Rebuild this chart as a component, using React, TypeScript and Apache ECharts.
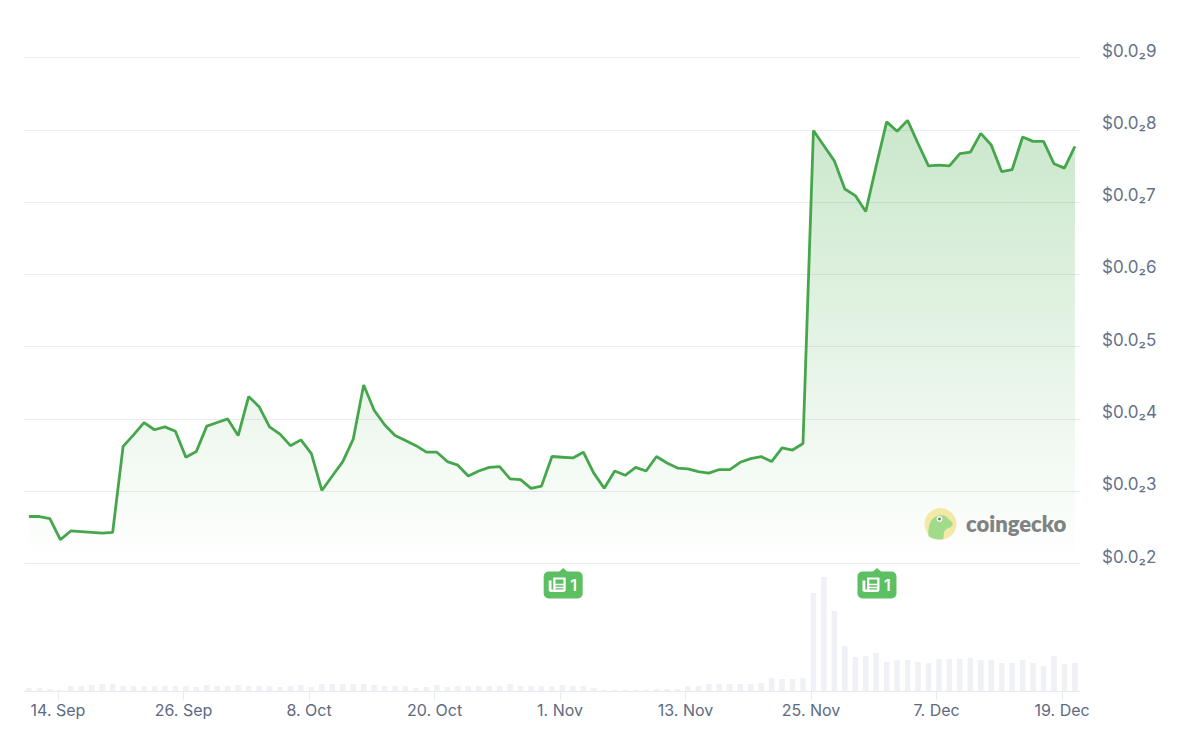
import { useEffect, useRef } from "react";
import * as echarts from "echarts";

// x values are days counted from 14 Sep
const firstPointDay = -2.775;
const axisStart = -3.25;
const axisEnd = 97.71;

// price, in thousandths of a dollar
const prices = [
  2.65, 2.65, 2.62, 2.33, 2.45, 2.44, 2.43, 2.42, 2.43, 3.62,
  3.78, 3.95, 3.85, 3.89, 3.83, 3.47, 3.55, 3.9, 3.95, 4.0,
  3.77, 4.31, 4.17, 3.89, 3.79, 3.63, 3.71, 3.52, 3.01, 3.21,
  3.41, 3.72, 4.47, 4.12, 3.92, 3.77, 3.7, 3.63, 3.54, 3.54,
  3.41, 3.36, 3.21, 3.28, 3.33, 3.34, 3.17, 3.16, 3.04, 3.07,
  3.48, 3.47, 3.46, 3.54, 3.25, 3.04, 3.28, 3.22, 3.33, 3.28,
  3.48, 3.39, 3.32, 3.31, 3.27, 3.25, 3.3, 3.3, 3.4, 3.45,
  3.48, 3.41, 3.6, 3.57, 3.66, 7.99, 7.78, 7.57, 7.18, 7.09,
  6.87, 7.5, 8.11, 7.98, 8.13, 7.81, 7.5, 7.51, 7.5, 7.67,
  7.69, 7.95, 7.79, 7.42, 7.45, 7.9, 7.84, 7.84, 7.53, 7.47,
  7.77,
];

const volumes = [
  3, 3, 2, 1, 5, 5, 6, 7, 7, 5,
  5, 5, 5, 5, 5, 5, 4, 6, 5, 5,
  6, 5, 5, 5, 4, 5, 6, 4, 7, 7,
  7, 7, 7, 6, 5, 5, 5, 3, 4, 6,
  4, 5, 5, 5, 5, 5, 7, 5, 5, 5,
  5, 6, 5, 5, 3, 1, 1, 1, 1, 1,
  2, 2, 2, 5, 5, 7, 7, 7, 7, 7,
  8, 13, 12, 12, 13, 98, 114, 80, 45, 34,
  35, 38, 29, 31, 31, 29, 28, 32, 32, 32,
  33, 31, 31, 28, 28, 31, 28, 25, 35, 27,
  28,
];

const priceTicks = [2, 3, 4, 5, 6, 7, 8, 9];
const priceLabels = ["$0.0₂2", "$0.0₂3", "$0.0₂4", "$0.0₂5", "$0.0₂6", "$0.0₂7", "$0.0₂8", "$0.0₂9"];

const tickDays = [0, 12, 24, 36, 48, 60, 72, 84, 96];
const tickLabels = ["14. Sep", "26. Sep", "8. Oct", "20. Oct", "1. Nov", "13. Nov", "25. Nov", "7. Dec", "19. Dec"];

const newsDays = [48.3, 78.3];
const newsCounts = ["1", "1"];

const FONT = "Inter, 'Liberation Sans', sans-serif";
const NEWS_ICON =
  "M4 0H15V13C15 14.1 14.1 15 13 15H2C0.9 15 0 14.1 0 13V3H2.5V12.5H4ZM6 2V6.5H13V2ZM6 8V9.5H13V8ZM6 11V12.5H13V11Z";
const GECKO =
  "M-12 12C-13 2 -10 -6 -3 -8C1 -10 6 -8 8 -5C10 -3 13 -2 12 1C11 4 6 4 4 7C3 10 3 13 3 15C-3 16 -9 15 -12 12Z";

echarts.graphic.registerShape("gecko", echarts.graphic.extendPath(GECKO, {}) as any);

function renderBadge(params: any, api: any) {
  const [cx, cy] = api.coord([api.value(0), 2]);
  return {
    type: "group",
    x: cx,
    y: cy,
    children: [
      { type: "polygon", shape: { points: [[-5, 9], [0, 4.5], [5, 9]] }, style: { fill: "#5cbf62" } },
      { type: "rect", shape: { x: -19.5, y: 8, width: 39, height: 27, r: 5 }, style: { fill: "#5cbf62" } },
      {
        type: "path",
        shape: { pathData: NEWS_ICON, x: -14.5, y: 14, width: 17, height: 14.5, layout: "cover" },
        style: { fill: "#ffffff" },
      },
      {
        type: "text",
        x: 10.5,
        y: 21.5,
        style: {
          text: newsCounts[params.dataIndex],
          fill: "#ffffff",
          font: `600 16px ${FONT}`,
          align: "center",
          verticalAlign: "middle",
        },
      },
    ],
  };
}

export default function App() {
  const chartRef = useRef<HTMLDivElement>(null);

  useEffect(() => {
    if (!chartRef.current) return;
    document.body.style.margin = "0";
    const chart = echarts.init(chartRef.current, null, { renderer: "svg" });

    const days = prices.map((_, i) => firstPointDay + i);

    chart.setOption({
      animation: false,
      backgroundColor: "#ffffff",
      textStyle: { fontFamily: FONT },
      grid: [
        { left: 24, right: 120, top: 57.5, height: 506 },
        { left: 24, right: 120, top: 563, height: 128 },
      ],
      xAxis: [
        { type: "value", gridIndex: 0, min: axisStart, max: axisEnd, show: false },
        {
          type: "value",
          gridIndex: 1,
          min: axisStart,
          max: axisEnd,
          splitLine: { show: false },
          axisLine: { lineStyle: { color: "#e8ebf1", width: 1 } },
          axisTick: { show: true, length: 9, customValues: tickDays, lineStyle: { color: "#e8ebf1" } },
          axisLabel: {
            customValues: tickDays,
            margin: 11,
            fontSize: 16,
            color: "#5e6a82",
            fontFamily: FONT,
            hideOverlap: false,
            formatter: (v: number) => tickLabels[tickDays.indexOf(v)] ?? "",
          },
        },
      ],
      yAxis: [
        {
          type: "value",
          gridIndex: 0,
          position: "right",
          min: 2,
          max: 9,
          interval: 1,
          axisLine: { show: false },
          axisTick: { show: false },
          splitLine: { lineStyle: { color: "#e8ebf1", width: 1 } },
          axisLabel: {
            margin: 22,
            fontSize: 17,
            lineHeight: 14,
            color: "#66718a",
            fontFamily: FONT,
            verticalAlign: "bottom",
            formatter: (v: number) => priceLabels[priceTicks.indexOf(v)] ?? "",
          },
        },
        { type: "value", gridIndex: 1, min: 0, max: 128, show: false },
      ],
      series: [
        {
          type: "bar",
          xAxisIndex: 1,
          yAxisIndex: 1,
          barWidth: 5.5,
          silent: true,
          itemStyle: { color: "#eff1f7" },
          data: volumes.map((v, i) => [days[i], v]),
        },
        {
          type: "line",
          xAxisIndex: 0,
          yAxisIndex: 0,
          showSymbol: false,
          symbol: "none",
          silent: true,
          lineStyle: { color: "#46a64c", width: 2.8 },
          areaStyle: {
            origin: "start",
            color: new echarts.graphic.LinearGradient(0, 0, 0, 1, [
              { offset: 0, color: "rgba(76,175,80,0.42)" },
              { offset: 1, color: "rgba(76,175,80,0)" },
            ]),
          },
          data: prices.map((v, i) => [days[i], v]),
        },
        {
          type: "custom",
          xAxisIndex: 0,
          yAxisIndex: 0,
          clip: false,
          silent: true,
          z: 5,
          renderItem: renderBadge,
          data: newsDays.map((d) => [d, 2]),
        },
      ],
      graphic: [
        {
          type: "group",
          x: 940.5,
          y: 524,
          z: 10,
          silent: true,
          children: [
            { type: "circle", shape: { cx: 0, cy: 0, r: 16 }, style: { fill: "#f9eaa9" } },
            { type: "gecko", style: { fill: "#a3dc8c" } },
            { type: "circle", shape: { cx: -1, cy: -5, r: 3 }, style: { fill: "#ffffff" } },
            { type: "circle", shape: { cx: -1, cy: -5, r: 1.4 }, style: { fill: "#6b7a5e" } },
          ],
        },
        {
          type: "text",
          x: 966,
          y: 523,
          z: 10,
          silent: true,
          style: {
            text: "coingecko",
            fill: "#808383",
            font: "800 22px Lato, sans-serif",
            verticalAlign: "middle",
          },
        },
      ],
    });

    return () => chart.dispose();
  }, []);

  return <div ref={chartRef} style={{ width: 1200, height: 739 }} />;
}
